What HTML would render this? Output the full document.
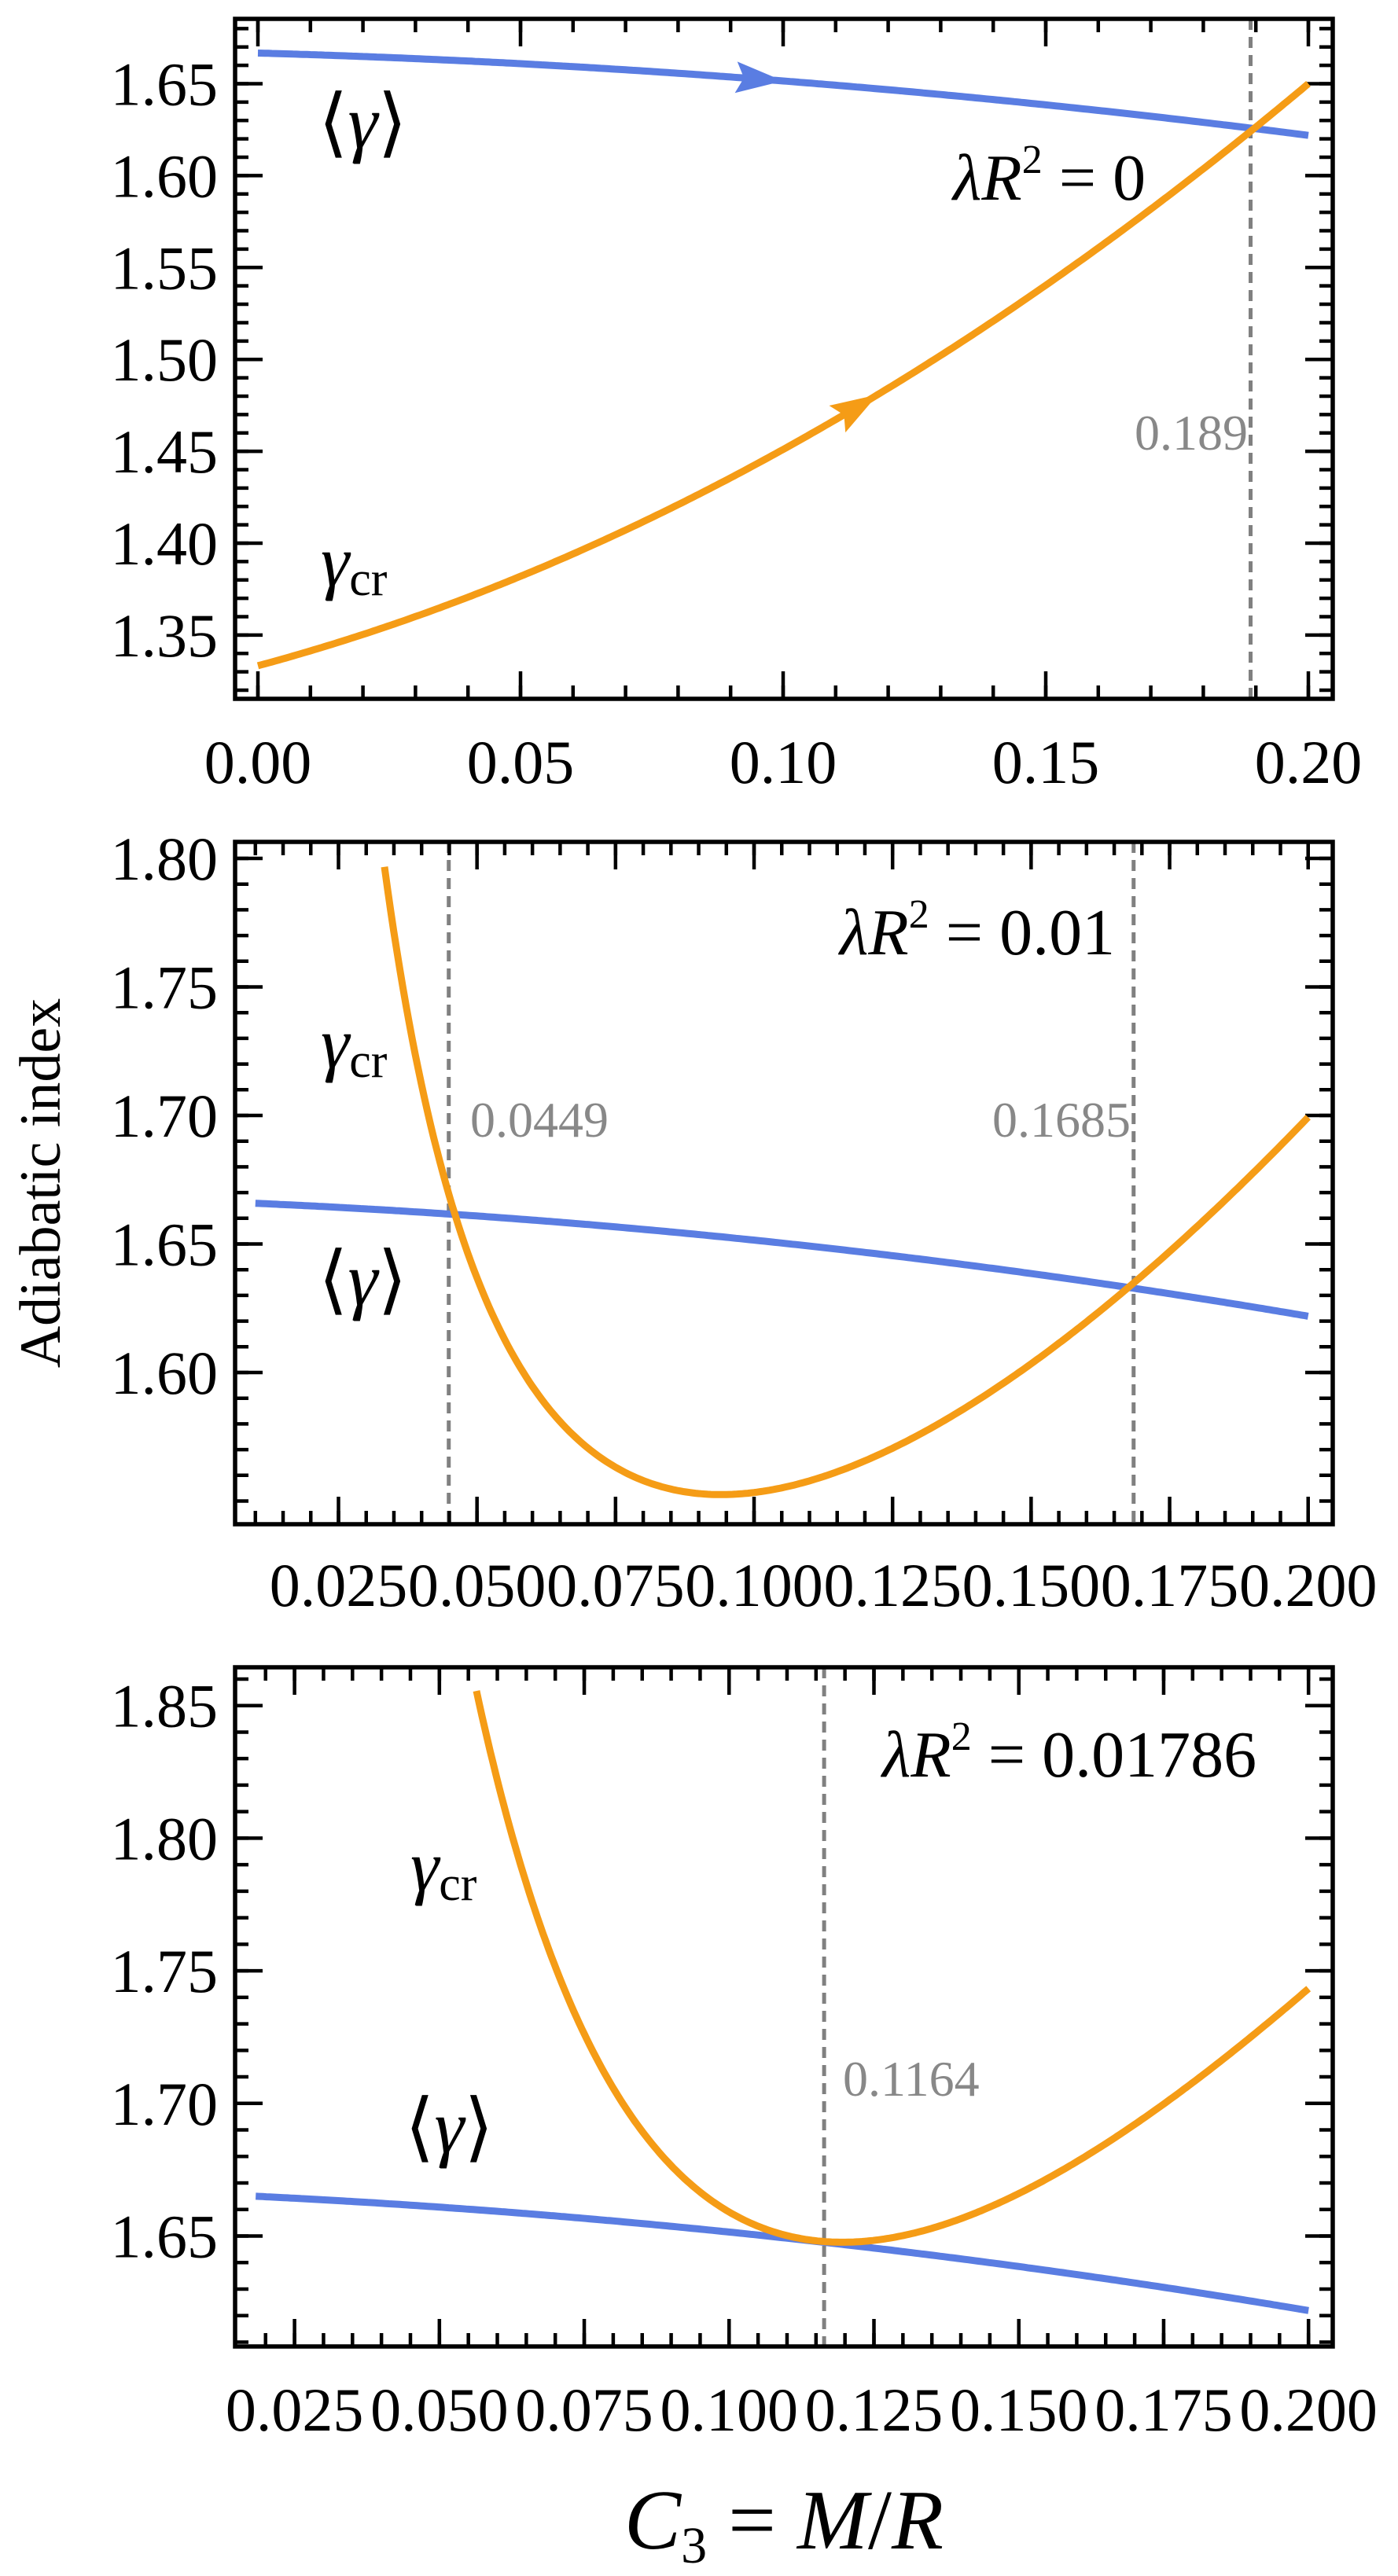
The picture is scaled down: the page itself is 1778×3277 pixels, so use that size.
<!DOCTYPE html>
<html><head><meta charset="utf-8"><style>
html,body{margin:0;padding:0;background:#fff}
svg{display:block}
text{font-family:"Liberation Serif",serif}
</style></head><body>
<svg id="s" width="1778" height="3277" viewBox="0 0 1778 3277" xmlns="http://www.w3.org/2000/svg">
<rect width="1778" height="3277" fill="#fff"/>
<g id="g"></g>
<g fill="#000">
<text x="405" y="188" font-size="96">⟨<tspan font-style="italic">γ</tspan>⟩</text>
<text x="1212" y="254" font-size="84"><tspan font-style="italic">λR</tspan><tspan font-size="52" dy="-34">2</tspan><tspan dy="34"> = 0</tspan></text>
<text x="408" y="745" font-size="92"><tspan font-style="italic">γ</tspan><tspan font-size="62" dy="12">cr</tspan></text>
<text x="1587" y="572" font-size="64" fill="#888" text-anchor="end">0.189</text>

<text x="1068" y="1214" font-size="84"><tspan font-style="italic">λR</tspan><tspan font-size="52" dy="-34">2</tspan><tspan dy="34"> = 0.01</tspan></text>
<text x="408" y="1358" font-size="92"><tspan font-style="italic">γ</tspan><tspan font-size="62" dy="12">cr</tspan></text>
<text x="405" y="1660" font-size="96">⟨<tspan font-style="italic">γ</tspan>⟩</text>
<text x="598" y="1446" font-size="64" fill="#888">0.0449</text>
<text x="1438" y="1446" font-size="64" fill="#888" text-anchor="end">0.1685</text>

<text x="1122" y="2260" font-size="84"><tspan font-style="italic">λR</tspan><tspan font-size="52" dy="-34">2</tspan><tspan dy="34"> = 0.01786</tspan></text>
<text x="522" y="2405" font-size="92"><tspan font-style="italic">γ</tspan><tspan font-size="62" dy="12">cr</tspan></text>
<text x="515" y="2738" font-size="96">⟨<tspan font-style="italic">γ</tspan>⟩</text>
<text x="1072" y="2666" font-size="64" fill="#888">0.1164</text>

<text transform="translate(76,1505) rotate(-90)" font-size="74" text-anchor="middle">Adiabatic index</text>
<text x="997" y="3242" font-size="108" text-anchor="middle"><tspan font-style="italic">C</tspan><tspan font-size="66" dy="18">3</tspan><tspan dy="-18"> = </tspan><tspan font-style="italic">M</tspan>/<tspan font-style="italic">R</tspan></text>
</g>
</svg>
<script>
(function(){
var g=document.getElementById('g'),NS='http://www.w3.org/2000/svg';
function el(n,a){var e=document.createElementNS(NS,n);for(var k in a)e.setAttribute(k,a[k]);g.appendChild(e);return e;}
function blue(x){return 1.6667-0.08*x-0.72*x*x;}
function fit(pts){
  var n=5,A=[],b=[];for(var i=0;i<n;i++){A.push([0,0,0,0,0]);b.push(0);}
  pts.forEach(function(p){var t=p[0]*10,f=[1,t,t*t,1/t,1/(t*t)];
    for(var i=0;i<n;i++){b[i]+=f[i]*p[1];for(var j=0;j<n;j++)A[i][j]+=f[i]*f[j];}});
  for(var i=0;i<n;i++){var m=i;for(var r=i+1;r<n;r++)if(Math.abs(A[r][i])>Math.abs(A[m][i]))m=r;
    var tmp=A[i];A[i]=A[m];A[m]=tmp;tmp=b[i];b[i]=b[m];b[m]=tmp;
    for(var r=i+1;r<n;r++){var c=A[r][i]/A[i][i];for(var j=i;j<n;j++)A[r][j]-=c*A[i][j];b[r]-=c*b[i];}}
  var x=[0,0,0,0,0];for(var i=n-1;i>=0;i--){var s=b[i];for(var j=i+1;j<n;j++)s-=A[i][j]*x[j];x[i]=s/A[i][i];}
  return function(v){var t=v*10;return x[0]+x[1]*t+x[2]*t*t+x[3]/t+x[4]/(t*t);};
}
var o2=fit([[0.0333,1.794],[0.0369,1.75],[0.042,1.70],[0.0449,1.661],[0.052,1.626],[0.0666,1.577],[0.0946,1.555],[0.1243,1.568],[0.156,1.6156],[0.1685,1.632],[0.2,1.70]]);
var o3=fit([[0.0564,1.853],[0.0632,1.804],[0.0709,1.7397],[0.0814,1.70],[0.0907,1.6774],[0.1164,1.648],[0.121,1.6476],[0.1455,1.6619],[0.1682,1.6885],[0.2,1.7436]]);
var P=[
 {x0:299,x1:1695,y0:24,y1:889,X:function(v){return 328+v*6680;},Y:function(v){return 106.5+(1.65-v)*2338;},
  xmaj:[0,0.05,0.1,0.15,0.2],xd:2,xmin:[-0.01,0.21,0.01],ymaj:[1.35,1.4,1.45,1.5,1.55,1.6,1.65],ymin:[1.31,1.69,0.01],xly:996,
  orange:function(x){return 1.3333+0.7705*x+4.065*x*x;},oa:0,ob:0.2,ba:0,vl:[0.189]},
 {x0:299,x1:1695,y0:1071,y1:1939,X:function(v){return 430.5+(v-0.025)*7047;},Y:function(v){return 1092+(1.80-v)*3270;},
  xmaj:[0.025,0.05,0.075,0.1,0.125,0.15,0.175,0.2],xd:3,xmin:[0.005,0.21,0.005],ymaj:[1.6,1.65,1.7,1.75,1.8],ymin:[1.54,1.81,0.01],xly:2043,
  orange:o2,oa:0.0333,ob:0.2,ba:0.01,vl:[0.0449,0.1685]},
 {x0:299,x1:1695,y0:2121,y1:2985,X:function(v){return 374.6+(v-0.025)*7369;},Y:function(v){return 2169.7+(1.85-v)*3374;},
  xmaj:[0.025,0.05,0.075,0.1,0.125,0.15,0.175,0.2],xd:3,xmin:[0.015,0.21,0.005],ymaj:[1.65,1.7,1.75,1.8,1.85],ymin:[1.61,1.87,0.01],xly:3092,
  orange:o3,oa:0.0564,ob:0.2,ba:0.0183,vl:[0.1164]}
];
P.forEach(function(p,pi){
  p.vl.forEach(function(v){var x=p.X(v);el('line',{x1:x,x2:x,y1:p.y0,y2:p.y1,stroke:'#808080','stroke-width':5,'stroke-dasharray':'14 9'});});
  function tick(x1,y1,x2,y2){el('line',{x1:x1,y1:y1,x2:x2,y2:y2,stroke:'#000','stroke-width':4.5});}
  var v,x,y;
  for(v=p.xmin[0];v<=p.xmin[1]+1e-9;v+=p.xmin[2]){x=p.X(v);if(x<p.x0+3||x>p.x1-3)continue;tick(x,p.y1,x,p.y1-17);tick(x,p.y0,x,p.y0+17);}
  for(v=p.ymin[0];v<=p.ymin[1]+1e-9;v+=p.ymin[2]){y=p.Y(v);if(y<p.y0+3||y>p.y1-3)continue;tick(p.x0,y,p.x0+17,y);tick(p.x1,y,p.x1-17,y);}
  p.xmaj.forEach(function(v){x=p.X(v);tick(x,p.y1,x,p.y1-35);tick(x,p.y0,x,p.y0+35);
    var t=el('text',{x:x,y:p.xly,'font-size':78,'text-anchor':'middle'});t.textContent=v.toFixed(p.xd);});
  p.ymaj.forEach(function(v){y=p.Y(v);tick(p.x0,y,p.x0+35,y);tick(p.x1,y,p.x1-35,y);
    var t=el('text',{x:277,y:y+27,'font-size':78,'text-anchor':'end'});t.textContent=v.toFixed(2);});
  function path(f,a,b){var d='';for(var i=0;i<=300;i++){var xv=a+(b-a)*i/300;d+=(i?'L':'M')+p.X(xv).toFixed(1)+','+p.Y(f(xv)).toFixed(1);}return d;}
  el('path',{d:path(blue,p.ba,0.2),fill:'none',stroke:'#5a7de2','stroke-width':9});
  el('path',{d:path(p.orange,p.oa,p.ob),fill:'none',stroke:'#f59c16','stroke-width':9});
  el('rect',{x:p.x0,y:p.y0,width:p.x1-p.x0,height:p.y1-p.y0,fill:'none',stroke:'#000','stroke-width':5.5});
  if(pi==0){
    function arrow(f,v,col){var x1=p.X(v),y1=p.Y(f(v)),x2=p.X(v-0.001),y2=p.Y(f(v-0.001));
      var a=Math.atan2(y1-y2,x1-x2)*180/Math.PI;
      el('path',{d:'M0,0 L-60,-20 L-50,0 L-60,20 Z',fill:col,transform:'translate('+x1+','+y1+') rotate('+a+')'});}
    arrow(blue,0.1,'#5a7de2');arrow(p.orange,0.118,'#f59c16');
  }
});
})();
</script>
</body></html>
